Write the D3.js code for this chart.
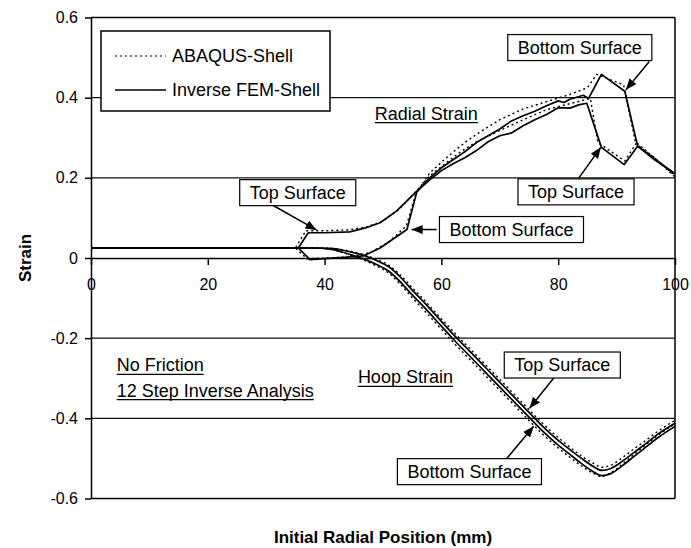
<!DOCTYPE html>
<html>
<head>
<meta charset="utf-8">
<script src="https://cdn.jsdelivr.net/npm/d3@7"></script>
<style>
  html, body { margin: 0; padding: 0; background: #fff; }
  svg { display: block; font-family: Arial, "Liberation Sans", sans-serif; }
</style>
</head>
<body>
<svg id="chart" width="691" height="548"></svg>
<script>
// Axis ticks
const xTicks = [0, 20, 40, 60, 80, 100];
const xTickLabels = ["0", "20", "40", "60", "80", "100"];
const yTicks = [-0.6, -0.4, -0.2, 0, 0.2, 0.4, 0.6];
const yTickLabels = ["-0.6", "-0.4", "-0.2", "0", "0.2", "0.4", "0.6"];
const gridValues = [-0.4, -0.2, 0.2, 0.4];

// Radial strain, top surface
const radialTopX = [0, 35.5, 37.2, 40, 44.3, 47, 49.5, 52.3, 55.8, 58, 60, 62, 64, 66, 68, 70, 72, 74, 76, 78, 80, 82, 83.5, 84.9, 87.4, 91.3, 93.6, 96.5, 100];
const radialTopInverse = [0.025, 0.025, 0.063, 0.063, 0.065, 0.075, 0.088, 0.117, 0.167, 0.195, 0.218, 0.235, 0.25, 0.268, 0.29, 0.305, 0.312, 0.33, 0.345, 0.358, 0.375, 0.374, 0.382, 0.386, 0.276, 0.233, 0.279, 0.248, 0.21];
const radialTopAbaqusX = [0, 35, 36.8, 40, 44, 47, 50, 53, 56, 58, 60, 63, 66, 70, 74, 78, 82, 85.5, 86.8, 91.4, 93.3, 96.5, 100];
const radialTopAbaqus = [0.025, 0.025, 0.068, 0.068, 0.07, 0.077, 0.092, 0.125, 0.172, 0.205, 0.228, 0.262, 0.29, 0.318, 0.345, 0.37, 0.385, 0.398, 0.288, 0.242, 0.285, 0.25, 0.202];

// Radial strain, bottom surface
const radialBottomX = [0, 35.5, 37.5, 46.6, 49.5, 54.1, 55.8, 58, 60, 62, 64, 66, 68, 70, 72, 74, 76, 78, 80, 81, 82, 84.3, 85.2, 87.4, 91.4, 93.6, 96.5, 100];
const radialBottomInverse = [0.025, 0.025, -0.004, 0.005, 0.025, 0.071, 0.165, 0.2, 0.225, 0.245, 0.265, 0.288, 0.305, 0.322, 0.342, 0.355, 0.366, 0.38, 0.392, 0.388, 0.396, 0.406, 0.398, 0.458, 0.416, 0.279, 0.245, 0.21];
const radialBottomAbaqusX = [0, 35, 37, 45, 48, 51, 54, 55.6, 58, 61, 64, 67, 70, 74, 78, 82, 85, 86.6, 91.2, 93.2, 96.5, 100];
const radialBottomAbaqus = [0.025, 0.025, -0.002, 0.003, 0.015, 0.04, 0.08, 0.16, 0.212, 0.252, 0.288, 0.318, 0.345, 0.372, 0.39, 0.408, 0.425, 0.458, 0.432, 0.29, 0.25, 0.205];

// Hoop strain, both surfaces
const hoopX = [0, 38, 41, 43, 45, 47, 49, 51, 53, 55, 57, 59, 62, 65, 68, 71, 74, 77, 80, 82, 84, 86, 87.5, 89, 91, 93, 95, 97, 100];
const hoopTopInverse = [0.025, 0.025, 0.024, 0.02, 0.013, 0.005, -0.007, -0.022, -0.048, -0.08, -0.11, -0.142, -0.19, -0.235, -0.28, -0.325, -0.37, -0.415, -0.455, -0.478, -0.5, -0.52, -0.53, -0.525, -0.507, -0.485, -0.463, -0.44, -0.412];
const hoopBottomInverse = [0.025, 0.025, 0.022, 0.015, 0.006, -0.004, -0.017, -0.033, -0.06, -0.092, -0.122, -0.154, -0.202, -0.247, -0.292, -0.337, -0.382, -0.427, -0.467, -0.49, -0.513, -0.533, -0.543, -0.538, -0.518, -0.495, -0.472, -0.449, -0.42];
const hoopTopAbaqus = [0.025, 0.025, 0.024, 0.021, 0.015, 0.007, -0.004, -0.018, -0.043, -0.074, -0.104, -0.136, -0.183, -0.228, -0.273, -0.318, -0.363, -0.408, -0.448, -0.472, -0.494, -0.512, -0.522, -0.517, -0.498, -0.476, -0.455, -0.433, -0.405];
const hoopBottomAbaqus = [0.025, 0.025, 0.022, 0.014, 0.004, -0.007, -0.021, -0.038, -0.066, -0.099, -0.13, -0.162, -0.21, -0.255, -0.3, -0.345, -0.39, -0.435, -0.474, -0.497, -0.519, -0.537, -0.545, -0.536, -0.514, -0.49, -0.466, -0.443, -0.414];

const legendLabels = ["ABAQUS-Shell", "Inverse FEM-Shell"];

// Callout boxes: centre and arrow tip in data units
const callouts = [
  { text: "Bottom Surface", cx: 83.7, cy: 0.525, fromX: 95.6, fromY: 0.49, toX: 91.6, toY: 0.42 },
  { text: "Top Surface", cx: 83.05, cy: 0.165, fromX: 83.3, fromY: 0.195, toX: 87.3, toY: 0.276 },
  { text: "Top Surface", cx: 35.4, cy: 0.163, fromX: 31.2, fromY: 0.131, toX: 38.6, toY: 0.07 },
  { text: "Bottom Surface", cx: 72.0, cy: 0.071, fromX: 59.2, fromY: 0.071, toX: 54.9, toY: 0.071 },
  { text: "Top Surface", cx: 80.7, cy: -0.267, fromX: 79.3, fromY: -0.298, toX: 75.1, toY: -0.375 },
  { text: "Bottom Surface", cx: 64.8, cy: -0.533, fromX: 71.2, fromY: -0.5, toX: 75.8, toY: -0.42 }
];

// Underlined notes: left edge and baseline in data units
const notes = [
  { text: "Radial Strain", x: 48.6, y: 0.345 },
  { text: "Hoop Strain", x: 45.7, y: -0.313 },
  { text: "No Friction", x: 4.4, y: -0.283 },
  { text: "12 Step Inverse Analysis", x: 4.4, y: -0.346 }
];

const svg = d3.select("#chart");
const x = d3.scaleLinear().domain([0, 100]).range([91, 675]);
const y = d3.scaleLinear().domain([-0.6, 0.6]).range([498.5, 17.5]);

const defs = svg.append("defs");
defs.append("marker")
  .attr("id", "arrowhead")
  .attr("markerUnits", "userSpaceOnUse")
  .attr("markerWidth", 12).attr("markerHeight", 9)
  .attr("refX", 11).attr("refY", 4.5)
  .attr("orient", "auto")
  .append("path").attr("d", "M0,0 L11,4.5 L0,9 Z").attr("fill", "#000");

// Gridlines and frame
svg.append("g").selectAll("line").data(gridValues).join("line")
  .attr("x1", x(0)).attr("x2", x(100))
  .attr("y1", d => y(d)).attr("y2", d => y(d))
  .attr("stroke", "#111").attr("stroke-width", 1.2);

svg.append("line").attr("x1", x(0)).attr("x2", x(100)).attr("y1", y(0.6)).attr("y2", y(0.6))
  .attr("stroke", "#000").attr("stroke-width", 1.5);
svg.append("line").attr("x1", x(0)).attr("x2", x(100)).attr("y1", y(-0.6)).attr("y2", y(-0.6))
  .attr("stroke", "#000").attr("stroke-width", 1.5);
svg.append("line").attr("x1", x(100)).attr("x2", x(100)).attr("y1", y(0.6)).attr("y2", y(-0.6))
  .attr("stroke", "#000").attr("stroke-width", 1.5);

// Y axis
const yAxis = svg.append("g").attr("transform", `translate(${x(0)},0)`)
  .call(d3.axisLeft(y).tickValues(yTicks).tickSize(6).tickSizeOuter(0)
    .tickFormat((d, i) => yTickLabels[i]));
yAxis.select(".domain").attr("stroke-width", 1.5);
yAxis.selectAll(".tick line").attr("stroke-width", 1.5);
yAxis.selectAll(".tick text").attr("x", -13).attr("font-size", 16)
  .attr("font-family", "Arial, 'Liberation Sans', sans-serif").attr("fill", "#000");

// X axis through zero
const xAxis = svg.append("g").attr("transform", `translate(0,${y(0)})`)
  .call(d3.axisBottom(x).tickValues(xTicks).tickSize(7).tickSizeOuter(0)
    .tickFormat((d, i) => xTickLabels[i]));
xAxis.select(".domain").attr("stroke-width", 1.5);
xAxis.selectAll(".tick line").attr("stroke-width", 1.5);
xAxis.selectAll(".tick text").attr("y", 21).attr("dy", "0.71em").attr("font-size", 16)
  .attr("font-family", "Arial, 'Liberation Sans', sans-serif").attr("fill", "#000");

// Axis titles
svg.append("text").attr("x", 383).attr("y", 543).attr("text-anchor", "middle")
  .attr("font-size", 17).attr("font-weight", "bold").text("Initial Radial Position (mm)");
svg.append("text").attr("transform", `translate(31,${y(0)}) rotate(-90)`)
  .attr("text-anchor", "middle").attr("font-size", 17).attr("font-weight", "bold").text("Strain");

// Curves
const straight = d3.line().x(d => x(d[0])).y(d => y(d[1]));
const smooth = d3.line().x(d => x(d[0])).y(d => y(d[1])).curve(d3.curveMonotoneX);
const zip = (xs, ys) => xs.map((v, i) => [v, ys[i]]);

const dotted = { stroke: "#000", width: 1.4, dash: "2,3" };
const solid = { stroke: "#000", width: 1.7, dash: null };

const series = [
  { pts: zip(radialTopAbaqusX, radialTopAbaqus), gen: straight, st: dotted },
  { pts: zip(radialBottomAbaqusX, radialBottomAbaqus), gen: straight, st: dotted },
  { pts: zip(hoopX, hoopTopAbaqus), gen: smooth, st: dotted },
  { pts: zip(hoopX, hoopBottomAbaqus), gen: smooth, st: dotted },
  { pts: zip(radialTopX, radialTopInverse), gen: straight, st: solid },
  { pts: zip(radialBottomX, radialBottomInverse), gen: straight, st: solid },
  { pts: zip(hoopX, hoopTopInverse), gen: smooth, st: solid },
  { pts: zip(hoopX, hoopBottomInverse), gen: smooth, st: solid }
];

svg.append("g").selectAll("path").data(series).join("path")
  .attr("d", d => d.gen(d.pts))
  .attr("fill", "none")
  .attr("stroke", d => d.st.stroke)
  .attr("stroke-width", d => d.st.width)
  .attr("stroke-dasharray", d => d.st.dash)
  .attr("stroke-linejoin", "round");

// Legend
const legend = svg.append("g");
legend.append("rect").attr("x", 101).attr("y", 31).attr("width", 229).attr("height", 80)
  .attr("fill", "#fff").attr("stroke", "#000").attr("stroke-width", 1.5);
const legendStyles = [dotted, solid];
legendLabels.forEach((label, i) => {
  const cy = 56 + i * 34;
  legend.append("line").attr("x1", 115).attr("x2", 166).attr("y1", cy).attr("y2", cy)
    .attr("stroke", "#000").attr("stroke-width", i === 0 ? 1.1 : 1.3)
    .attr("stroke-dasharray", i === 0 ? "2,3" : null);
  legend.append("text").attr("x", 172).attr("y", cy).attr("dy", "0.35em")
    .attr("font-size", 18).text(label);
});

// Callouts
const cg = svg.append("g");
callouts.forEach(c => {
  cg.append("line")
    .attr("x1", x(c.fromX)).attr("y1", y(c.fromY))
    .attr("x2", x(c.toX)).attr("y2", y(c.toY))
    .attr("stroke", "#000").attr("stroke-width", 1.5)
    .attr("marker-end", "url(#arrowhead)");
});
callouts.forEach(c => {
  const t = cg.append("text").attr("x", x(c.cx)).attr("y", y(c.cy)).attr("dy", "0.35em")
    .attr("text-anchor", "middle").attr("font-size", 18).text(c.text);
  const w = t.node().getComputedTextLength() + 20;
  const h = 26;
  cg.insert("rect", () => t.node())
    .attr("x", x(c.cx) - w / 2).attr("y", y(c.cy) - h / 2)
    .attr("width", w).attr("height", h)
    .attr("fill", "#fff").attr("stroke", "#000").attr("stroke-width", 1.2);
});

// Underlined notes
notes.forEach(n => {
  const t = svg.append("text").attr("x", x(n.x)).attr("y", y(n.y))
    .attr("font-size", 18).text(n.text);
  const w = t.node().getComputedTextLength();
  svg.append("line").attr("x1", x(n.x)).attr("x2", x(n.x) + w)
    .attr("y1", y(n.y) + 3).attr("y2", y(n.y) + 3)
    .attr("stroke", "#000").attr("stroke-width", 1.2);
});
</script>
</body>
</html>
